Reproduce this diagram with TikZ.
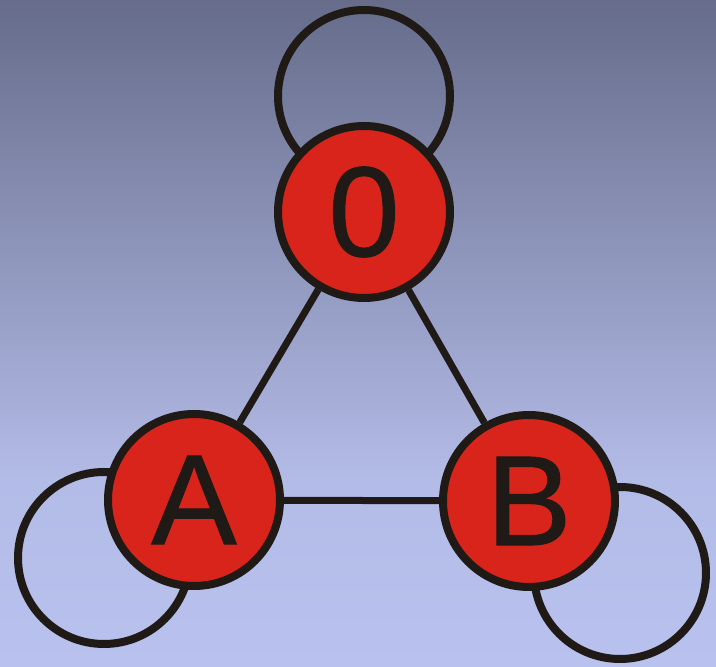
\documentclass[tikz,border=0pt]{standalone}
\usepackage{fontspec}
\setmainfont{Liberation Sans}
\newfontfamily\labelfont[FakeBold=0.8]{Liberation Sans}
\usepackage{xcolor}

\definecolor{bgtop}{HTML}{666C8A}
\definecolor{bgmid}{HTML}{B3BBE7}
\definecolor{bgbot}{HTML}{B9C1EE}
\definecolor{nodered}{HTML}{D9241C}
\definecolor{ink}{HTML}{201A17}

\pgfdeclarelayer{bg}
\pgfdeclarelayer{edges}
\pgfsetlayers{bg,edges,main}

\tikzset{
  vertex/.style={circle, draw=ink, fill=nodered, line width=8pt, inner sep=0pt,
    minimum size=172pt, text=ink, font=\labelfont\fontsize{128}{128}\selectfont},
  link/.style={draw=ink, line width=7pt},
  selfloop/.style={draw=ink, line width=8pt}
}

\begin{document}
\begin{tikzpicture}[x=1pt,y=1pt]

\node[vertex] (n0) at (364,455) {0};
\node[vertex] (nA) at (194,167) {A};
\node[vertex] (nB) at (529,166) {B};

\begin{pgfonlayer}{bg}
\shade[top color=bgtop, bottom color=bgmid] (0,187) rectangle (716,667);
\shade[top color=bgmid, bottom color=bgbot] (0,0) rectangle (716,187.5);
\end{pgfonlayer}

\begin{pgfonlayer}{edges}
\draw[link] (n0) -- (nA);
\draw[link] (n0) -- (nB);
\draw[link] (nA) -- (nB);
\draw[selfloop] ([shift={(0,116)}]n0.center) circle[radius=86];
\draw[selfloop] ([shift={(-90,-58)}]nA.center) circle[radius=86];
\draw[selfloop] ([shift={(91,-72)}]nB.center) circle[radius=86];
\end{pgfonlayer}

\useasboundingbox (0,0) rectangle (716,667);
\end{tikzpicture}
\end{document}
